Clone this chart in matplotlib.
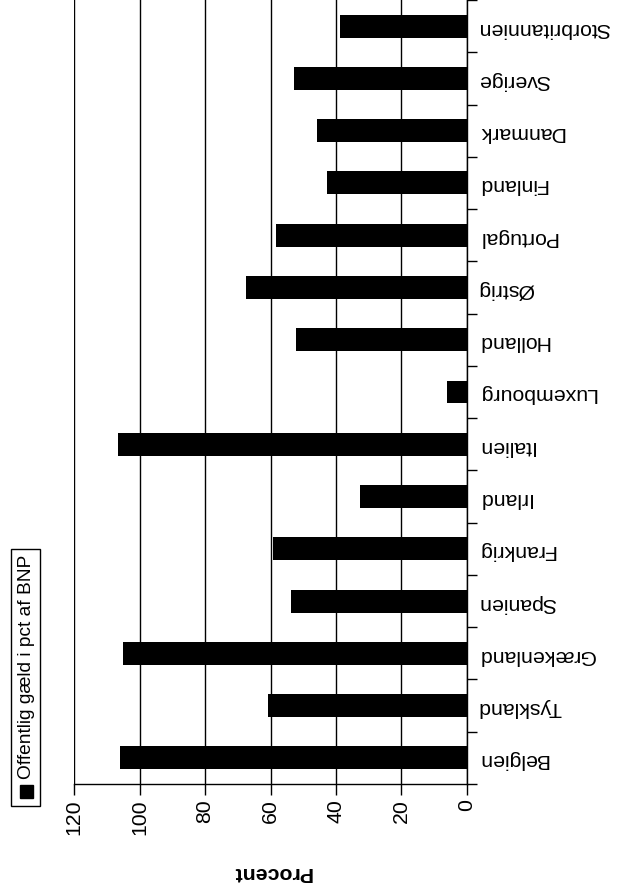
import numpy as np
import matplotlib
matplotlib.use("Agg")
import matplotlib.pyplot as plt
from matplotlib.patches import Rectangle

plt.rcParams['font.family'] = ['Liberation Sans', 'DejaVu Sans']

lande = ['Belgien', 'Tyskland', 'Grækenland', 'Spanien', 'Frankrig', 'Irland',
         'Italien', 'Luxembourg', 'Holland', 'Østrig', 'Portugal', 'Finland',
         'Danmark', 'Sverige', 'Storbritannien']
gaeld = [106.0, 60.9, 105.0, 53.8, 59.1, 32.6, 106.7, 5.9, 52.3, 67.6,
         58.4, 42.8, 45.7, 52.7, 38.7]
procent_ticks = [0, 20, 40, 60, 80, 100, 120]
serie_navn = 'Offentlig gæld i pct af BNP'

W, H = 627, 896
fig = plt.figure(figsize=(W / 100, H / 100), dpi=100)
fs = 15.3

# the column chart is laid on its side: values run right-to-left, countries bottom-to-top
ax = fig.add_axes([74.3 / W, (H - 784) / H, (466.7 - 74.3) / W, 784 / H])
pos = np.arange(len(lande))
ax.barh(pos, gaeld, height=0.44, color='black', zorder=3)

ax.set_xlim(120, 0)
ax.set_ylim(-0.5, len(lande) - 0.5)
ax.set_xticks(procent_ticks)
ax.set_xticklabels([str(t) for t in procent_ticks], rotation=90, fontsize=fs)
ax.tick_params(axis='x', direction='out', length=8, width=1, pad=3, colors='black')
ax.grid(axis='x', color='black', linewidth=1, zorder=1)

ax.yaxis.tick_right()
ax.set_yticks(np.arange(-0.5, len(lande), 1.0))
ax.set_yticklabels([])
ax.set_yticks(pos, minor=True)
ax.set_yticklabels(lande, minor=True, rotation=180, fontsize=fs, ha='left')
ax.tick_params(axis='y', which='major', direction='out', length=7, width=1)
ax.tick_params(axis='y', which='minor', length=0, pad=8)

for s in ['top', 'left']:
    ax.spines[s].set_visible(False)
for s in ['bottom', 'right']:
    ax.spines[s].set_linewidth(1)

fig.text(272 / W, 1 - 872 / H, 'Procent', rotation=180, fontsize=fs,
         fontweight='bold', ha='center', va='center')

# legend box, turned with the chart
fig.patches.append(Rectangle((11 / W, (H - 806) / H), 29 / W, 257 / H,
                             transform=fig.transFigure, fill=False,
                             edgecolor='black', linewidth=1))
fig.patches.append(Rectangle((20 / W, (H - 798) / H), 13 / W, 13 / H,
                             transform=fig.transFigure, color='black'))
fig.text(27 / W, (H - 779) / H, serie_navn, rotation=90, fontsize=13.8,
         ha='center', va='bottom')

fig.savefig('out.png', dpi=100, facecolor='white')
